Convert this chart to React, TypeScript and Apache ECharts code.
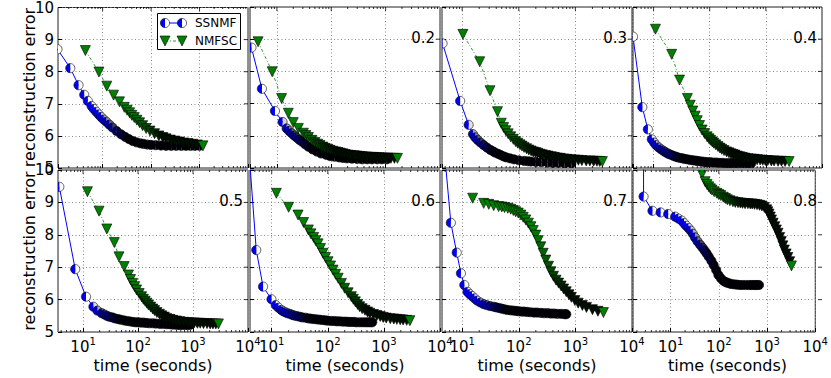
import React, { useEffect, useRef } from 'react';
import * as echarts from 'echarts';

// ---------------- data ----------------
const panelLabels = ['', '0.2', '0.3', '0.4', '0.5', '0.6', '0.7', '0.8'];
const xMins = [1.2, 3.2, 4.4, 4.3, 3.5, 4.1, 4.4, 1.66];
const X_MAX = 10000;
const yTicks = [5, 6, 7, 8, 9, 10];
const xTitle = 'time (seconds)';
const yTitle = 'reconstruction error';

const ss1 = [[1.17,8.70],[2.15,8.11],[3.18,7.58],[4.17,7.28],[4.95,7.09],[5.9,6.93],[6.6,6.84],[7.4,6.75],[8.3,6.67],[9.3,6.59],[10.5,6.51],[11.9,6.44],[13.8,6.35],[16,6.26],[19.5,6.15],[24,6.05],[29,5.97],[35,5.90],[42,5.84],[50,5.80],[60,5.77],[70,5.75],[84,5.73],[100,5.72],[125,5.71],[160,5.70],[204,5.69],[260,5.69],[330,5.69],[420,5.69],[525,5.69],[650,5.69],[800,5.69],[1000,5.69]];
const nm1 = [[4.4,8.66],[8.4,7.99],[12.2,7.55],[16.8,7.27],[22.3,7.06],[28,6.89],[32,6.80],[36,6.72],[40,6.64],[45,6.57],[51,6.49],[58,6.41],[67,6.32],[79,6.23],[95,6.15],[118,6.07],[145,6.00],[175,5.95],[204,5.91],[250,5.87],[310,5.84],[385,5.81],[470,5.78],[580,5.76],[725,5.74],[900,5.72],[1175,5.69]];

const ss2 = [[3.4,8.74],[5.3,7.46],[9.2,6.77],[12.7,6.43],[15.1,6.23],[16.8,6.15],[18.7,6.08],[20.7,6.01],[23,5.95],[25.7,5.88],[28.6,5.82],[33,5.74],[38,5.66],[45,5.58],[54,5.51],[65,5.45],[80,5.41],[95,5.37],[115,5.35],[140,5.33],[165,5.31],[195,5.30],[240,5.29],[300,5.28],[370,5.27],[457,5.27],[560,5.27],[700,5.27],[850,5.27],[1050,5.27]];
const nm2 = [[4.5,8.92],[8.2,7.99],[12.2,7.16],[16.2,6.70],[20,6.41],[24.8,6.23],[30.7,6.08],[34,6.01],[38,5.95],[44,5.86],[50,5.79],[56,5.74],[62,5.70],[70,5.65],[77,5.61],[86,5.58],[95,5.55],[107,5.52],[120,5.50],[133,5.48],[147,5.46],[163,5.44],[180,5.42],[205,5.40],[230,5.39],[265,5.38],[299,5.37],[335,5.36],[370,5.35],[415,5.34],[460,5.34],[530,5.33],[600,5.33],[680,5.32],[760,5.32],[850,5.31],[950,5.31],[1100,5.31],[1250,5.30],[1450,5.30],[1650,5.30]];

const ss3 = [[4.5,8.87],[9.2,7.08],[13,6.34],[15.5,6.05],[17,5.95],[18.8,5.87],[21,5.79],[24,5.71],[27.5,5.63],[31.6,5.56],[35,5.52],[38,5.48],[43,5.44],[48,5.40],[54,5.36],[60,5.33],[70,5.30],[82,5.27],[100,5.24],[125,5.22],[145,5.21],[163,5.20],[200,5.19],[250,5.18],[323,5.17],[400,5.16],[500,5.16],[645,5.15],[850,5.15]];
const nm3 = [[10.3,9.15],[20.4,8.30],[31,7.40],[42,6.75],[49,6.39],[54,6.26],[59,6.16],[65,6.06],[72,5.97],[80,5.89],[88,5.82],[96,5.77],[105,5.72],[114,5.68],[124,5.64],[137,5.60],[150,5.56],[165,5.53],[180,5.50],[197,5.48],[215,5.46],[237,5.43],[260,5.41],[295,5.39],[330,5.37],[375,5.35],[425,5.33],[480,5.31],[540,5.30],[620,5.28],[700,5.27],[820,5.26],[970,5.25],[1130,5.24],[1300,5.23],[1550,5.22],[1800,5.22],[2100,5.21],[2400,5.21],[2700,5.20],[3000,5.20]];

const ss4 = [[4.3,9.08],[6.3,6.89],[7.9,6.20],[9.3,5.89],[10.2,5.79],[11.1,5.71],[12.3,5.64],[13.6,5.58],[14.8,5.54],[16,5.50],[17.5,5.46],[19,5.43],[21,5.40],[23,5.37],[25,5.35],[27,5.33],[30,5.31],[33,5.30],[36,5.28],[40,5.27],[45,5.25],[50,5.24],[55,5.23],[60,5.22],[66,5.21],[73,5.20],[81,5.19],[90,5.18],[102,5.18],[115,5.17],[130,5.17],[145,5.16],[165,5.16],[188,5.15],[215,5.15],[240,5.15],[275,5.15],[310,5.15],[360,5.15],[420,5.15],[480,5.15],[550,5.15]];
const nm4 = [[10.8,9.31],[21,8.53],[29,7.73],[40,7.16],[45,6.95],[50,6.77],[55,6.61],[60,6.47],[66,6.32],[73,6.18],[81,6.07],[90,5.97],[97,5.91],[104,5.86],[111,5.81],[118,5.77],[128,5.72],[140,5.67],[152,5.62],[164,5.58],[180,5.54],[200,5.50],[220,5.47],[240,5.44],[260,5.42],[282,5.40],[310,5.37],[340,5.35],[380,5.33],[420,5.31],[480,5.29],[550,5.28],[620,5.27],[700,5.26],[790,5.25],[880,5.24],[980,5.23],[1080,5.23],[1250,5.22],[1400,5.22],[1650,5.21],[1900,5.21],[2200,5.20],[2600,5.20]];

const ss5 = [[3.7,9.48],[7.2,6.94],[11.3,6.09],[15.4,5.78],[18.2,5.66],[21.9,5.58],[24.5,5.54],[27,5.50],[30,5.47],[34,5.45],[38,5.42],[43,5.40],[48,5.38],[55,5.36],[62,5.34],[70,5.33],[80,5.31],[90,5.30],[100,5.30],[112,5.29],[125,5.29],[140,5.28],[160,5.27],[185,5.27],[210,5.26],[250,5.25],[290,5.25],[335,5.24],[380,5.24],[420,5.23],[460,5.23],[520,5.22],[575,5.22],[640,5.22],[720,5.22],[800,5.22],[880,5.22]];
const nm5 = [[12,9.33],[19.5,8.73],[27,8.18],[37,7.76],[45,7.32],[56,7.02],[67,6.76],[73,6.62],[80,6.50],[87,6.40],[94,6.30],[105,6.19],[116,6.09],[125,6.01],[135,5.95],[145,5.89],[155,5.83],[170,5.77],[185,5.71],[200,5.66],[220,5.60],[245,5.55],[270,5.50],[300,5.46],[330,5.42],[380,5.39],[430,5.36],[500,5.34],[575,5.32],[680,5.30],[800,5.29],[920,5.28],[1050,5.28],[1200,5.27],[1350,5.27],[1550,5.26],[1800,5.26],[2050,5.25],[2300,5.25],[2600,5.25],[2900,5.25]];

const ss6 = [[4.1,10.15],[5.3,7.53],[7.0,6.40],[9.9,6.01],[11.8,5.83],[13.2,5.75],[14.8,5.68],[16,5.64],[17.5,5.61],[19,5.58],[21,5.56],[23,5.53],[25,5.51],[28,5.49],[31.6,5.47],[35,5.45],[40,5.44],[45,5.42],[50,5.41],[56,5.40],[63,5.39],[71,5.38],[80,5.37],[90,5.36],[100,5.35],[115,5.34],[130,5.34],[145,5.33],[163,5.33],[185,5.32],[210,5.32],[235,5.31],[260,5.31],[290,5.31],[322,5.30],[370,5.30],[420,5.30],[470,5.30],[520,5.30],[570,5.30],[620,5.30]];
const nm6 = [[12.1,9.28],[20,8.85],[29.5,8.61],[37,8.38],[45,8.15],[50,8.03],[56,7.92],[61,7.82],[67,7.72],[74,7.58],[82,7.43],[91,7.30],[101,7.17],[112,7.04],[124,6.91],[138,6.78],[153,6.66],[175,6.50],[200,6.35],[230,6.21],[263,6.09],[285,6.01],[310,5.93],[340,5.85],[370,5.78],[410,5.72],[460,5.67],[510,5.62],[560,5.58],[650,5.54],[750,5.51],[860,5.48],[970,5.45],[1100,5.43],[1300,5.41],[1500,5.40],[1700,5.39],[1950,5.38],[2200,5.37],[2550,5.36],[2900,5.35]];

const ss7 = [[4.4,11.4],[6.3,8.37],[8.0,7.45],[9.5,6.81],[10.9,6.45],[12.4,6.24],[13.6,6.17],[14.9,6.11],[16.5,6.04],[18.3,5.97],[21,5.91],[24,5.86],[27,5.83],[31,5.80],[36,5.78],[40,5.76],[45,5.74],[50,5.72],[56,5.70],[63,5.68],[71,5.67],[80,5.66],[90,5.65],[100,5.64],[112,5.63],[124,5.63],[140,5.62],[160,5.61],[185,5.60],[210,5.60],[245,5.59],[282,5.58],[325,5.58],[370,5.57],[420,5.57],[480,5.56],[560,5.56],[645,5.55],[690,5.55]];
const nm7 = [[15.3,9.13],[24,8.97],[29.5,8.94],[36,8.90],[44,8.87],[50,8.86],[56,8.84],[64,8.82],[72,8.79],[80,8.75],[88,8.71],[98,8.67],[109,8.61],[120,8.54],[133,8.46],[148,8.36],[164,8.25],[180,8.13],[200,7.99],[220,7.82],[245,7.63],[270,7.43],[300,7.22],[335,7.03],[370,6.86],[410,6.72],[455,6.60],[505,6.51],[560,6.42],[620,6.33],[690,6.24],[770,6.15],[850,6.07],[980,5.97],[1120,5.89],[1330,5.82],[1570,5.76],[2000,5.69],[2500,5.64],[3130,5.60]];

const ss8 = [[2.74,12.0],[2.75,9.18],[4.2,8.74],[6.2,8.69],[8.9,8.64],[12.4,8.56],[14.5,8.50],[16.9,8.44],[19,8.36],[21,8.28],[23.5,8.21],[26,8.13],[29,8.03],[32,7.92],[36,7.80],[41,7.69],[46,7.60],[51,7.51],[56,7.42],[62,7.32],[70,7.20],[78,7.07],[88,6.91],[98,6.76],[110,6.66],[124,6.58],[137,6.54],[150,6.52],[165,6.50],[182,6.48],[210,6.47],[240,6.46],[275,6.45],[311,6.45],[360,6.45],[420,6.45],[470,6.45],[520,6.45],[570,6.45],[620,6.45],[680,6.45]];
const nm8 = [[40,10.3],[45,9.88],[52,9.64],[57,9.55],[62,9.48],[67,9.42],[72,9.38],[80,9.33],[91,9.28],[100,9.24],[110,9.21],[124,9.16],[137,9.12],[150,9.08],[170,9.05],[196,9.02],[220,9.00],[250,8.99],[280,8.98],[311,8.97],[350,8.96],[400,8.96],[450,8.95],[493,8.95],[550,8.94],[620,8.93],[700,8.91],[782,8.89],[880,8.84],[985,8.77],[1040,8.71],[1100,8.64],[1170,8.55],[1240,8.46],[1340,8.36],[1450,8.25],[1560,8.15],[1690,8.05],[1830,7.92],[1980,7.79],[2130,7.66],[2290,7.53],[2490,7.41],[2700,7.30],[2950,7.17],[3210,7.04]];

const SS = [ss1, ss2, ss3, ss4, ss5, ss6, ss7, ss8];
const NM = [nm1, nm2, nm3, nm4, nm5, nm6, nm7, nm8];

// ---------------- styles / layout ----------------
const fadeSS = [[8,35],[11,45],[12,40],[9,35],[14,50],[13,50],[16,65],[22,90]];
const fadeNM = [[40,180],[28,120],[55,200],[65,250],[80,300],[140,500],[180,800],[80,320]];
const LEFTS = [58, 250, 442, 633];
const WIDTHS = [190, 190, 190, 189];
const TOPS = [7, 170];
const HEIGHTS = [161, 162];
const FONT = "'DejaVu Sans', sans-serif";
const BLUE = [0, 0, 255];
const WHITE = [255, 255, 255];
const GREEN = [0, 128, 0];
const DARK_SS = [0, 0, 8];
const DARK_NM = [2, 14, 2];

function mix(c: number[], d: number[], f: number) {
  const r = c.map((v, i) => Math.round(v * (1 - f) + d[i] * f));
  return `rgb(${r[0]},${r[1]},${r[2]})`;
}
function fadeF(t: number, fr: number[]) {
  const a = Math.log10(fr[0]), b = Math.log10(fr[1]);
  const v = (Math.log10(t) - a) / (b - a);
  return Math.max(0, Math.min(1, v));
}

function xFormatter(v: number) {
  const l = Math.log10(v);
  const r = Math.round(l);
  if (Math.abs(l - r) > 1e-6) return '';
  return `{b|10}{e|${r}}`;
}

export default function App() {
  const ref = useRef<HTMLDivElement>(null);
  useEffect(() => {
    document.body.style.margin = '0';
    const chart = echarts.init(ref.current!, null, { renderer: 'svg' });
    const grids: any[] = [];
    const xAxes: any[] = [];
    const yAxes: any[] = [];
    const series: any[] = [];
    const graphics: any[] = [];

    for (let p = 0; p < 8; p++) {
      const row = p < 4 ? 0 : 1;
      const col = p % 4;
      grids.push({
        left: LEFTS[col], top: TOPS[row], width: WIDTHS[col], height: HEIGHTS[row],
        show: true, borderColor: '#222', borderWidth: 1, backgroundColor: 'transparent',
      });
      xAxes.push({
        type: 'log', logBase: 10, gridIndex: p, min: xMins[p], max: X_MAX,
        axisLine: { show: false },
        axisTick: { show: true, inside: true, length: 4, lineStyle: { color: '#000' } },
        splitLine: { show: true, lineStyle: { color: '#888', type: [1, 2.5], width: 1 } },
        axisLabel: {
          show: row === 1, formatter: xFormatter, margin: 4, showMinLabel: false, showMaxLabel: true,
          rich: {
            b: { fontSize: 15, fontFamily: FONT, color: '#000', lineHeight: 22 },
            e: { fontSize: 10, fontFamily: FONT, color: '#000', lineHeight: 10, verticalAlign: 'top' },
          },
        },
      });
      yAxes.push({
        type: 'value', gridIndex: p, min: yTicks[0], max: yTicks[yTicks.length - 1], interval: 1,
        axisLine: { show: false },
        axisTick: { show: true, inside: true, length: 4, lineStyle: { color: '#000' } },
        splitLine: { show: true, lineStyle: { color: '#888', type: [1, 2.5], width: 1 } },
        axisLabel: { show: col === 0, fontSize: 15, fontFamily: FONT, color: '#000', margin: 4 },
      });

      const ss = SS[p];
      const nm = NM[p];
      series.push({
        type: 'line', xAxisIndex: p, yAxisIndex: p, data: ss, symbol: 'none', silent: true,
        lineStyle: { color: '#0000ff', width: 1 }, z: 2,
      });
      const fs = fadeSS[p];
      series.push({
        type: 'custom', xAxisIndex: p, yAxisIndex: p, data: ss, clip: true, silent: true, z: 3,
        encode: { x: 0, y: 1 },
        renderItem: (params: any, api: any) => {
          const t = api.value(0), e = api.value(1);
          const c = api.coord([t, e]);
          const f = fadeF(t, fs);
          const fw = Math.min(1, f * 1.6);
          return {
            type: 'group',
            children: [
              { type: 'sector', shape: { cx: c[0], cy: c[1], r: 4.6, r0: 0, startAngle: -Math.PI / 2, endAngle: Math.PI / 2 }, style: { fill: mix(WHITE, DARK_SS, fw) } },
              { type: 'sector', shape: { cx: c[0], cy: c[1], r: 4.6, r0: 0, startAngle: Math.PI / 2, endAngle: Math.PI * 1.5 }, style: { fill: mix(BLUE, DARK_SS, f) } },
              { type: 'circle', shape: { cx: c[0], cy: c[1], r: 4.6 }, style: { fill: 'none', stroke: '#000', lineWidth: 0.6 } },
            ],
          };
        },
      });
      series.push({
        type: 'line', xAxisIndex: p, yAxisIndex: p, data: nm, symbol: 'none', silent: true,
        lineStyle: { color: '#2e9a2e', width: 1, type: [3, 2, 1, 2] }, z: 4,
      });
      const fn = fadeNM[p];
      series.push({
        type: 'custom', xAxisIndex: p, yAxisIndex: p, data: nm, clip: true, silent: true, z: 5,
        encode: { x: 0, y: 1 },
        renderItem: (params: any, api: any) => {
          const t = api.value(0), e = api.value(1);
          const c = api.coord([t, e]);
          let f = fadeF(t, fn);
          if (params.dataIndex === nm.length - 1) f = 0;
          return {
            type: 'polygon',
            shape: { points: [[c[0] - 5, c[1] - 5], [c[0] + 5, c[1] - 5], [c[0], c[1] + 5]] },
            style: { fill: mix(GREEN, DARK_NM, f), stroke: '#000', lineWidth: 0.6 },
          };
        },
      });

      if (panelLabels[p]) {
        graphics.push({
          type: 'text', x: LEFTS[col] + WIDTHS[col] - 5, y: TOPS[row] + 31, z: 20,
          style: { text: panelLabels[p], fontSize: 15, fontFamily: FONT, fill: '#000', align: 'right', verticalAlign: 'middle' },
        });
      }
      if (row === 1) {
        graphics.push({
          type: 'text', x: LEFTS[col] + WIDTHS[col] / 2, y: 365, z: 20,
          style: { text: xTitle, fontSize: 16, fontFamily: FONT, fill: '#000', align: 'center', verticalAlign: 'middle' },
        });
      }
      if (col === 0) {
        graphics.push({
          type: 'text', x: 29, y: TOPS[row] + HEIGHTS[row] / 2, rotation: Math.PI / 2, z: 20,
          style: { text: yTitle, fontSize: 16, fontFamily: FONT, fill: '#000', align: 'center', verticalAlign: 'middle' },
        });
      }
    }

    // legend (panel 1)
    const lx1 = 165, lx2 = 182, ly1 = 23, ly2 = 41;
    const halfCircle = (cx: number, cy: number) => ([
      { type: 'sector', shape: { cx, cy, r: 4.6, r0: 0, startAngle: -Math.PI / 2, endAngle: Math.PI / 2 }, style: { fill: '#fff' }, z: 21 },
      { type: 'sector', shape: { cx, cy, r: 4.6, r0: 0, startAngle: Math.PI / 2, endAngle: Math.PI * 1.5 }, style: { fill: '#0000ff' }, z: 21 },
      { type: 'circle', shape: { cx, cy, r: 4.6 }, style: { fill: 'none', stroke: '#000', lineWidth: 0.6 }, z: 22 },
    ]);
    const tri = (cx: number, cy: number) => ({
      type: 'polygon', z: 21,
      shape: { points: [[cx - 5, cy - 5], [cx + 5, cy - 5], [cx, cy + 5]] },
      style: { fill: '#008000', stroke: '#000', lineWidth: 0.6 },
    });
    graphics.push(
      { type: 'rect', z: 20, shape: { x: 157.5, y: 13.5, width: 83, height: 36 }, style: { fill: '#fff', stroke: '#000', lineWidth: 1 } },
      { type: 'line', z: 21, shape: { x1: lx1, y1: ly1, x2: lx2, y2: ly1 }, style: { stroke: '#0000ff', lineWidth: 1 } },
      ...halfCircle(lx1, ly1), ...halfCircle(lx2, ly1),
      { type: 'line', z: 21, shape: { x1: lx1, y1: ly2, x2: lx2, y2: ly2 }, style: { stroke: '#2e9a2e', lineWidth: 1, lineDash: [3, 2, 1, 2] } },
      tri(lx1, ly2), tri(lx2, ly2),
      { type: 'text', z: 22, x: 195, y: ly1, style: { text: 'SSNMF', fontSize: 12, fontFamily: FONT, fill: '#000', verticalAlign: 'middle' } },
      { type: 'text', z: 22, x: 195, y: ly2, style: { text: 'NMFSC', fontSize: 12, fontFamily: FONT, fill: '#000', verticalAlign: 'middle' } },
    );

    chart.setOption({
      animation: false,
      backgroundColor: '#fff',
      grid: grids,
      xAxis: xAxes,
      yAxis: yAxes,
      series,
      graphic: graphics,
    });

    // mirrored major ticks and log minor ticks on all edges, placed through the axes' scales
    const ticks: any[] = [];
    const tickLine = (x1: number, y1: number, x2: number, y2: number) => ({
      type: 'line', z: 6, silent: true, shape: { x1, y1, x2, y2 }, style: { stroke: '#000', lineWidth: 0.8 },
    });
    for (let p = 0; p < 8; p++) {
      const row = p < 4 ? 0 : 1;
      const col = p % 4;
      const top = TOPS[row], bottom = TOPS[row] + HEIGHTS[row];
      const left = LEFTS[col], right = LEFTS[col] + WIDTHS[col];
      const lo = Math.floor(Math.log10(xMins[p]));
      for (let d = lo; d < 4; d++) {
        for (let k = 1; k < 10; k++) {
          const v = k * Math.pow(10, d);
          if (v <= xMins[p] || v >= X_MAX) continue;
          const px = chart.convertToPixel({ xAxisIndex: p } as any, v) as unknown as number;
          if (k === 1) {
            ticks.push(tickLine(px, top, px, top + 4));
          } else {
            ticks.push(tickLine(px, top, px, top + 2));
            ticks.push(tickLine(px, bottom, px, bottom - 2));
          }
        }
      }
      for (const yv of yTicks) {
        if (yv === yTicks[0] || yv === yTicks[yTicks.length - 1]) continue;
        const py = chart.convertToPixel({ yAxisIndex: p } as any, yv) as unknown as number;
        ticks.push(tickLine(right, py, right - 4, py));
      }
      void left;
    }
    chart.setOption({ graphic: [...graphics, ...ticks] });
    return () => chart.dispose();
  }, []);
  return <div ref={ref} style={{ width: 831, height: 378 }} />;
}
